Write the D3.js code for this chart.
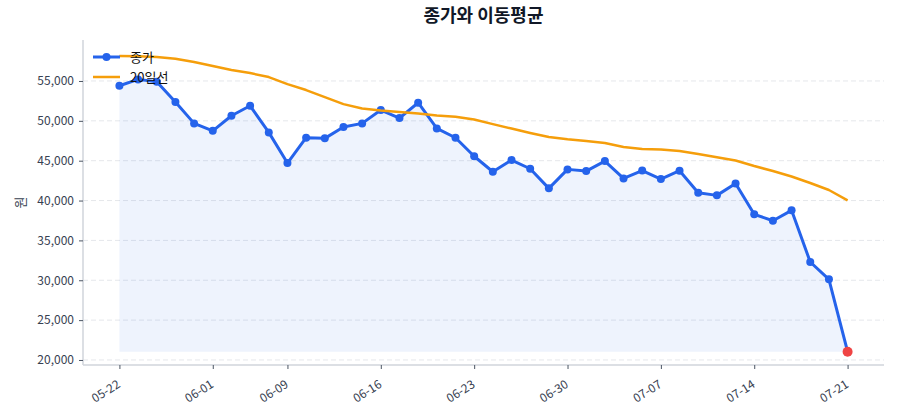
<!DOCTYPE html>
<html>
<head>
<meta charset="utf-8">
<script src="https://cdn.jsdelivr.net/npm/d3@7"></script>
<style>
  body { margin: 0; background: #fff; }
  svg text { font-family: "Noto Sans CJK KR", "Noto Sans", sans-serif; }
</style>
</head>
<body>
<div id="chart"></div>
<script>
// 종가 (원), trading-day index 0..39
const closes = [54400, 55200, 54900, 52350, 49680, 48750, 50640, 51890, 48550, 44700,
    47880, 47800, 49220, 49680, 51350, 50350, 52270, 49050, 47880, 45560,
    43610, 45080, 43990, 41530, 43910, 43700, 44950, 42780, 43760, 42700,
    43740, 40980, 40650, 42150, 38270, 37470, 38770, 32290, 30120, 21040];

// 20일 이동평균
const ma20 = [58120, 58100, 58000, 57800, 57370, 56870, 56370, 55990, 55490, 54610,
    53860, 52980, 52100, 51540, 51290, 51100, 50910, 50660, 50510, 50160,
    49590, 49030, 48470, 47960, 47680, 47460, 47210, 46710, 46460, 46400,
    46210, 45830, 45420, 45020, 44330, 43700, 43010, 42200, 41320, 40030];

const tickIdx = [0, 5, 9, 14, 19, 24, 29, 34, 39];
const tickLabels = ["05-22", "06-01", "06-09", "06-16", "06-23", "06-30", "07-07", "07-14", "07-21"];
const yTicks = [20000, 25000, 30000, 35000, 40000, 45000, 50000, 55000];

const width = 900, height = 420;
const margin = { top: 40, right: 16, bottom: 55, left: 83 };

const svg = d3.select("#chart").append("svg").attr("width", width).attr("height", height);

const x = d3.scaleLinear().domain([-1.95, closes.length - 1 + 1.95]).range([margin.left, width - margin.right]);
const y = d3.scaleLinear().domain([19370, 60140]).range([height - margin.bottom, margin.top]);

// grid
svg.append("g").selectAll("line").data(yTicks).enter().append("line")
    .attr("x1", margin.left).attr("x2", width - margin.right)
    .attr("y1", d => y(d)).attr("y2", d => y(d))
    .attr("stroke", "#e5e7eb").attr("stroke-width", 1).attr("stroke-dasharray", "5,3");

// area under close
const minClose = d3.min(closes);
const area = d3.area().x((d, i) => x(i)).y0(y(minClose)).y1(d => y(d));
svg.append("path").datum(closes).attr("d", area).attr("fill", "#2563eb").attr("fill-opacity", 0.08);

// axes
const yAxis = svg.append("g").attr("transform", `translate(${margin.left},0)`)
    .call(d3.axisLeft(y).tickValues(yTicks).tickFormat(d3.format(",")).tickSize(4).tickPadding(5));
const xAxis = svg.append("g").attr("transform", `translate(0,${height - margin.bottom})`)
    .call(d3.axisBottom(x).tickValues(tickIdx).tickFormat((d, i) => tickLabels[i]).tickSize(4).tickPadding(4));

[yAxis, xAxis].forEach(g => {
    g.select(".domain").attr("stroke", "#d1d5db").attr("stroke-width", 1.5);
    g.selectAll(".tick line").attr("stroke", "#4b5563");
    g.selectAll(".tick text").attr("fill", "#374151").style("font-size", "12px");
});
yAxis.select(".domain").attr("d", `M0,${height - margin.bottom}V${margin.top}`);
xAxis.select(".domain").attr("d", `M${margin.left},0H${width - margin.right}`);
xAxis.selectAll(".tick text")
    .attr("x", 0).attr("y", 0)
    .attr("text-anchor", "end")
    .attr("dy", "0.35em")
    .attr("transform", "translate(-1,18) rotate(-32)");

// close line
const line = d3.line().x((d, i) => x(i)).y(d => y(d));
svg.append("path").datum(closes).attr("d", line)
    .attr("fill", "none").attr("stroke", "#2563eb").attr("stroke-width", 3).attr("stroke-linejoin", "round");
svg.append("g").selectAll("circle").data(closes.slice(0, -1)).enter().append("circle")
    .attr("cx", (d, i) => x(i)).attr("cy", d => y(d)).attr("r", 4).attr("fill", "#2563eb");

// MA line
svg.append("path").datum(ma20).attr("d", line)
    .attr("fill", "none").attr("stroke", "#f59e0b").attr("stroke-width", 2.5).attr("stroke-linejoin", "round");

// last point highlight
svg.append("circle").attr("cx", x(closes.length - 1)).attr("cy", y(closes[closes.length - 1]))
    .attr("r", 5).attr("fill", "#ef4444");

// legend
const legend = svg.append("g").attr("transform", `translate(${margin.left + 10},${margin.top})`);
legend.append("line").attr("x1", 0).attr("x2", 27).attr("y1", 17).attr("y2", 17)
    .attr("stroke", "#2563eb").attr("stroke-width", 3);
legend.append("circle").attr("cx", 13.5).attr("cy", 17).attr("r", 4).attr("fill", "#2563eb");
legend.append("text").attr("x", 37).attr("y", 17).attr("dy", "0.35em").style("font-size", "13px").attr("fill", "#111").text("종가");
legend.append("line").attr("x1", 0).attr("x2", 27).attr("y1", 37).attr("y2", 37)
    .attr("stroke", "#f59e0b").attr("stroke-width", 2.5);
legend.append("text").attr("x", 37).attr("y", 37).attr("dy", "0.35em").style("font-size", "13px").attr("fill", "#111").text("20일선");

// y label
svg.append("text").attr("transform", `translate(20,${(margin.top + height - margin.bottom) / 2}) rotate(-90)`)
    .attr("text-anchor", "middle").attr("dy", "0.35em").style("font-size", "13px").attr("fill", "#374151").text("원");

// title
svg.append("text").attr("x", (margin.left + width - margin.right) / 2).attr("y", 22)
    .attr("text-anchor", "middle").style("font-size", "18px").style("font-weight", "bold")
    .attr("fill", "#111827").text("종가와 이동평균");
</script>
</body>
</html>
